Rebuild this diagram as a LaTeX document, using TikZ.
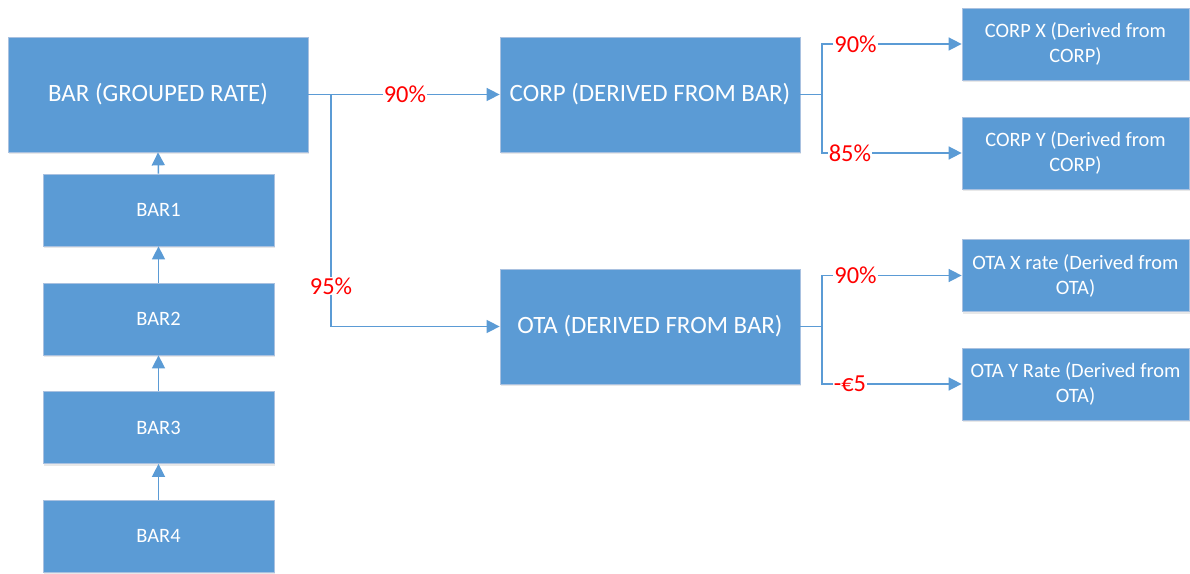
\documentclass[tikz,border=0pt]{standalone}
\usepackage{fontspec}
\setmainfont{Carlito}
\usetikzlibrary{arrows.meta,shadows}
\definecolor{boxblue}{HTML}{5B9BD5}
\definecolor{boxedge}{HTML}{A9C1E0}
\definecolor{lblred}{HTML}{FF0000}
\begin{document}
\begin{tikzpicture}[x=1bp,y=-1bp,
  box/.style={rectangle, fill=boxblue, draw=boxedge, line width=0.75bp, text=white, align=center, inner sep=0pt,
    drop shadow={shadow xshift=1bp, shadow yshift=-2bp, opacity=0.18}},
  bigbox/.style={box, minimum width=300bp, minimum height=115bp, font=\fontsize{25}{30}\selectfont},
  barbox/.style={box, minimum width=231bp, minimum height=72bp, font=\fontsize{20.5}{25}\selectfont},
  outbox/.style={box, minimum width=227bp, minimum height=72bp, font=\fontsize{20.5}{25}\selectfont},
  wire/.style={draw=boxblue, line width=1.5bp},
  conn/.style={wire, -{Triangle[length=13bp,width=13bp]}},
  lbl/.style={fill=white, text=lblred, inner sep=1bp, font=\fontsize{24.5}{29}\selectfont}
]
\useasboundingbox (0,0) rectangle (1190,574);

\node[bigbox] (bar) at (158,94.5) {BAR (GROUPED RATE)};
\node[barbox] (bar1) at (158.5,210) {BAR1};
\node[barbox] (bar2) at (158.5,319) {BAR2};
\node[barbox] (bar3) at (158.5,427.5) {BAR3};
\node[barbox] (bar4) at (158.5,536) {BAR4};

\node[bigbox] (corp) at (650,94.5) {CORP (DERIVED FROM BAR)};
\node[bigbox] (ota) at (650,326.5) {OTA (DERIVED FROM BAR)};

\node[outbox] (corpx) at (1075.5,44) {CORP X (Derived from\\CORP)};
\node[outbox] (corpy) at (1075.5,153) {CORP Y (Derived from\\CORP)};
\node[outbox] (otax) at (1075.5,275.5) {OTA X rate (Derived from\\OTA)};
\node[outbox] (otay) at (1075.5,384) {OTA Y Rate (Derived from\\OTA)};

\draw[conn] (bar1.north) -- (bar.south);
\draw[conn] (bar2.north) -- (bar1.south);
\draw[conn] (bar3.north) -- (bar2.south);
\draw[conn] (bar4.north) -- (bar3.south);

\coordinate (j1) at (331,94.5);
\draw[conn] (bar.east) -- node[lbl, pos=0.505] {90\%} (corp.west);
\draw[conn] (j1) |- (ota.west);
\node[lbl] (l95) at (331,286) {95\%};

\coordinate (j2) at (822,94.5);
\coordinate (j3) at (822,326.5);
\draw[wire] (corp.east) -- (j2);
\draw[wire] (ota.east) -- (j3);
\draw[conn] (j2) |- node[lbl, pos=0.62] {90\%} (corpx.west);
\draw[conn] (j2) |- node[lbl, pos=0.6] {85\%} (corpy.west);
\draw[conn] (j3) |- node[lbl, pos=0.62] {90\%} (otax.west);
\draw[conn] (j3) |- node[lbl, pos=0.6] {-€5} (otay.west);
\end{tikzpicture}
\end{document}
